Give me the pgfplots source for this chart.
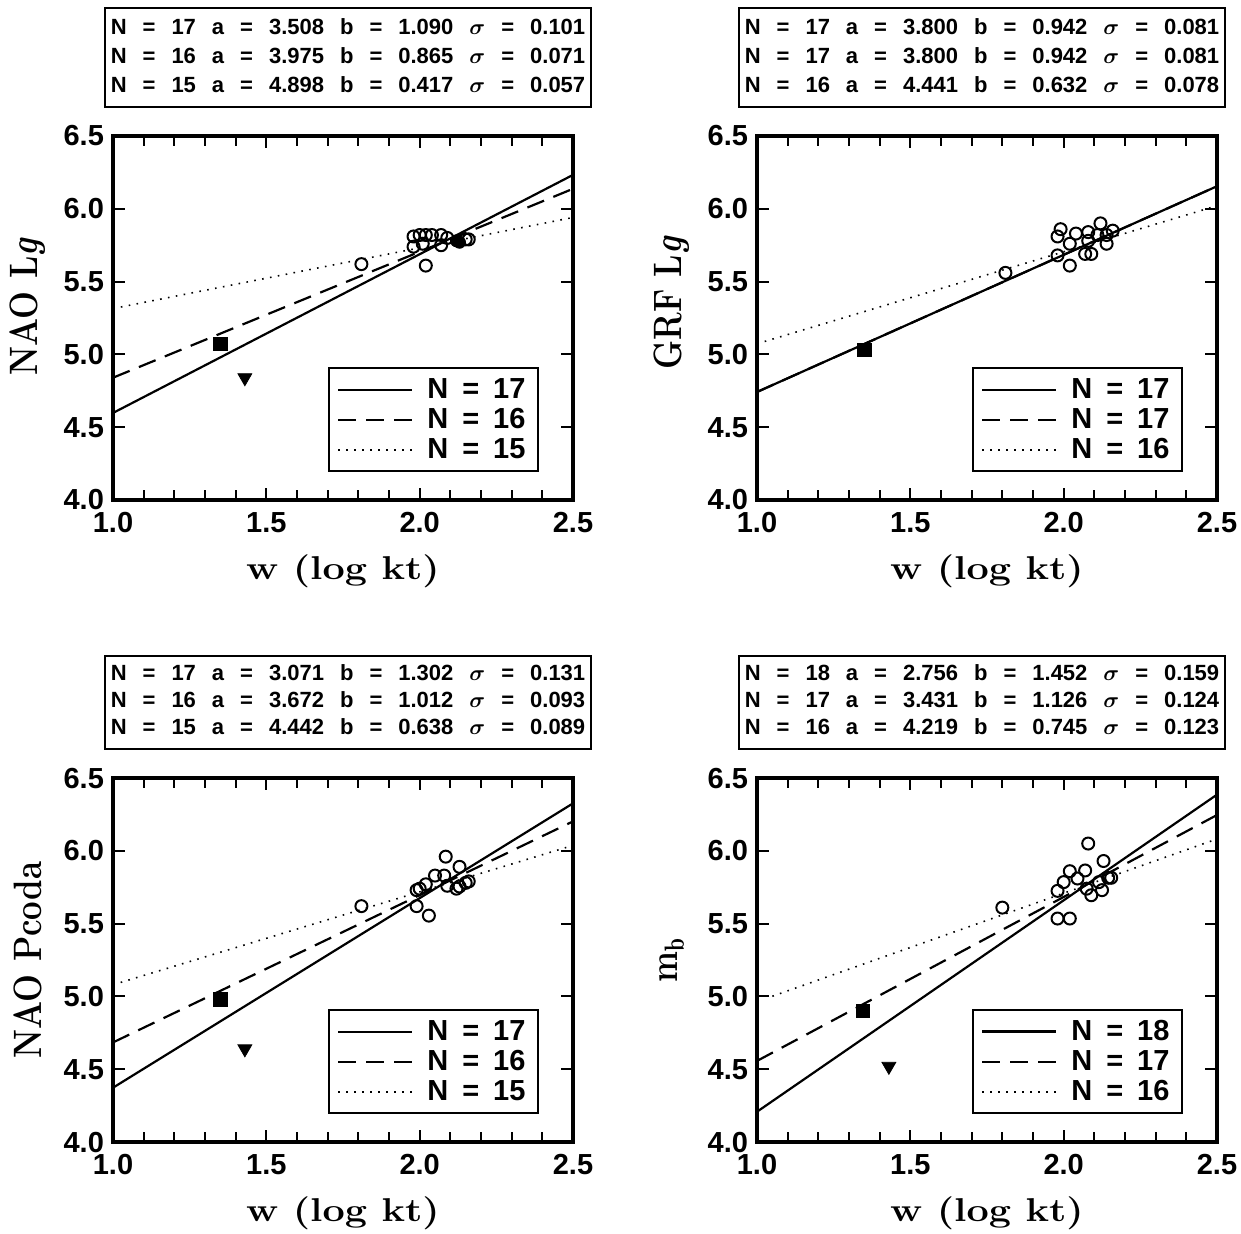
\documentclass[border=0pt]{standalone}
\usepackage{amsmath}
\usepackage{fontspec}
\usepackage{pgfplots}
\pgfplotsset{compat=1.18}
\newfontfamily\hv{Liberation Sans}
\newcommand{\fitrow}[4]{N & = & #1 & a & = & #2 & b & = & #3 & $\boldsymbol{\sigma}$ & = & #4}
\newcommand{\legN}[1]{N\hspace{7pt}=\hspace{7pt}#1}
\newcommand{\xlab}{\scalebox{1.2}[1]{w\hspace{6pt}(log\hspace{6pt}kt)}}
\newcommand{\ylab}[1]{\scalebox{1}[1.2]{#1}}
\pgfplotsset{
  panel/.style={
    anchor=south west, width=230pt, height=182pt, scale only axis,
    xmin=1, xmax=2.5, ymin=4, ymax=6.5,
    xtick={1,1.5,2,2.5}, ytick={4,4.5,5,5.5,6,6.5},
    minor x tick num=4,
    xtick pos=both, ytick pos=both,
    xticklabel pos=lower, yticklabel pos=left,
    tick align=inside,
    major tick length=6pt, minor tick length=5pt,
    every tick/.style={black, line width=1pt},
    axis line style={line width=1.6pt},
    /pgf/number format/assume math mode=true,
    /pgf/number format/.cd, fixed, fixed zerofill, precision=1, /pgfplots/.cd,
    ticklabel style={font=\hv\bfseries\fontsize{14.5}{16}\selectfont},
    xticklabel style={yshift=-2.5pt},
    yticklabel style={xshift=-1pt},
    every axis x label/.style={at={(rel axis cs:0.5,-0.195)}, anchor=center, font=\bfseries\fontsize{16.5}{19}\selectfont},
    every axis y label/.style={at={(rel axis cs:-0.185,0.5)}, anchor=center, rotate=90, font=\bfseries\fontsize{16.5}{19}\selectfont},
    xlabel={\xlab},
    legend cell align=left,
    legend style={at={(0.925,0.076)}, anchor=south east, draw=black, line width=1pt,
      font=\hv\bfseries\fontsize{14.5}{16}\selectfont, row sep=-0.5pt, column sep=5pt,
      inner xsep=4pt, inner ysep=3pt},
    legend image code/.code={\draw[#1] (0pt,0pt) -- (37pt,0pt);},
  },
  solidl/.style={black, line width=1.1pt},
  dashedl/.style={black, line width=1.1pt, dash pattern=on 9pt off 5pt},
  dottedl/.style={black, line width=0.8pt, dash pattern=on 0.8pt off 3.2pt},
  opc/.style={only marks, mark=o, mark size=3pt, mark options={black, line width=1pt}, forget plot},
  fic/.style={only marks, mark=*, mark size=3pt, mark options={black}, forget plot},
  sq/.style={only marks, mark=square*, mark size=3.3pt, mark options={black}, forget plot},
  tri/.style={only marks, mark=triangle*, mark size=4pt, mark options={black, rotate=180}, forget plot},
}
\begin{document}
\begin{tikzpicture}
\useasboundingbox (0,0) rectangle (620.5pt,-616.5pt);

% ---------- fit boxes ----------
\def\boxfont{\hv\bfseries\fontsize{11}{14.5}\selectfont\setlength{\tabcolsep}{4pt}}
\node[draw, line width=1pt, inner xsep=3pt, inner ysep=3pt] at (174pt,-28.75pt)
 {\boxfont\begin{tabular}{@{}llllllllllll@{}}
 \fitrow{17}{3.508}{1.090}{0.101}\\
 \fitrow{16}{3.975}{0.865}{0.071}\\
 \fitrow{15}{4.898}{0.417}{0.057}
 \end{tabular}};
\node[draw, line width=1pt, inner xsep=3pt, inner ysep=3pt] at (491pt,-28.75pt)
 {\boxfont\begin{tabular}{@{}llllllllllll@{}}
 \fitrow{17}{3.800}{0.942}{0.081}\\
 \fitrow{17}{3.800}{0.942}{0.081}\\
 \fitrow{16}{4.441}{0.632}{0.078}
 \end{tabular}};
\def\boxfontb{\hv\bfseries\fontsize{11}{13.5}\selectfont\setlength{\tabcolsep}{4pt}}
\node[draw, line width=1pt, inner xsep=3pt, inner ysep=3pt] at (174pt,-351pt)
 {\boxfontb\begin{tabular}{@{}llllllllllll@{}}
 \fitrow{17}{3.071}{1.302}{0.131}\\
 \fitrow{16}{3.672}{1.012}{0.093}\\
 \fitrow{15}{4.442}{0.638}{0.089}
 \end{tabular}};
\node[draw, line width=1pt, inner xsep=3pt, inner ysep=3pt] at (491pt,-351pt)
 {\boxfontb\begin{tabular}{@{}llllllllllll@{}}
 \fitrow{18}{2.756}{1.452}{0.159}\\
 \fitrow{17}{3.431}{1.126}{0.124}\\
 \fitrow{16}{4.219}{0.745}{0.123}
 \end{tabular}};

% ---------- top left ----------
\begin{axis}[panel, at={(56.5pt,-250pt)}, ylabel={\ylab{NAO L{\itshape g}}},
  every axis y label/.append style={at={(rel axis cs:-0.185,0.53)}}]
\addplot[solidl] coordinates {(1.0,4.598) (2.5,6.233)};
\addlegendentry{\legN{17}}
\addplot[dashedl] coordinates {(1.0,4.840) (2.5,6.1375)};
\addlegendentry{\legN{16}}
\addplot[dottedl] coordinates {(1.0,5.315) (2.5,5.9405)};
\addlegendentry{\legN{15}}
\addplot[opc] coordinates {(1.81,5.62) (2.02,5.61) (1.98,5.81) (2.00,5.82) (2.02,5.82) (2.04,5.82) (2.07,5.82) (2.07,5.75) (1.98,5.74) (2.01,5.76) (2.09,5.80) (2.15,5.79) (2.16,5.79)};
\addplot[fic] coordinates {(2.12,5.78) (2.13,5.77)};
\addplot[sq] coordinates {(1.35,5.07)};
\addplot[tri] coordinates {(1.43,4.84)};
\end{axis}

% ---------- top right ----------
\begin{axis}[panel, at={(378.5pt,-250pt)}, ylabel={\ylab{GRF L{\itshape g}}},
  every axis y label/.append style={at={(rel axis cs:-0.185,0.54)}}]
\addplot[solidl] coordinates {(1.0,4.742) (2.5,6.155)};
\addlegendentry{\legN{17}}
\addplot[dashedl] coordinates {(1.0,4.742) (2.5,6.155)};
\addlegendentry{\legN{17}}
\addplot[dottedl] coordinates {(1.0,5.073) (2.5,6.021)};
\addlegendentry{\legN{16}}
\addplot[opc] coordinates {(1.81,5.56) (1.99,5.86) (1.98,5.81) (1.98,5.68) (2.02,5.76) (2.02,5.61) (2.04,5.83) (2.08,5.84) (2.08,5.78) (2.07,5.69) (2.09,5.69) (2.12,5.90) (2.11,5.82) (2.14,5.82) (2.14,5.76) (2.16,5.85)};
\addplot[sq] coordinates {(1.35,5.03)};
\end{axis}

% ---------- bottom left ----------
\begin{axis}[panel, at={(56.5pt,-571pt)}, ylabel={\ylab{NAO Pcoda}}]
\addplot[solidl] coordinates {(1.0,4.373) (2.5,6.326)};
\addlegendentry{\legN{17}}
\addplot[dashedl] coordinates {(1.0,4.684) (2.5,6.202)};
\addlegendentry{\legN{16}}
\addplot[dottedl] coordinates {(1.0,5.080) (2.5,6.037)};
\addlegendentry{\legN{15}}
\addplot[opc] coordinates {(1.81,5.62) (2.085,5.96) (2.13,5.89) (2.05,5.83) (2.08,5.83) (2.02,5.77) (2.00,5.74) (1.99,5.73) (2.09,5.76) (2.12,5.74) (2.13,5.755) (2.15,5.78) (2.16,5.79) (1.99,5.62) (2.03,5.555)};
\addplot[sq] coordinates {(1.35,4.98)};
\addplot[tri] coordinates {(1.43,4.64)};
\end{axis}

% ---------- bottom right ----------
\begin{axis}[panel, at={(378.5pt,-571pt)}, ylabel={\ylab{m$_{\mathbf{b}}$}}]
\addplot[solidl] coordinates {(1.0,4.208) (2.5,6.386)};
\addlegendentry{\legN{18}}
\addplot[dashedl] coordinates {(1.0,4.557) (2.5,6.246)};
\addlegendentry{\legN{17}}
\addplot[dottedl] coordinates {(1.05,5.001) (2.5,6.0815)};
\addlegendentry{\legN{16}}
\addplot[opc] coordinates {(1.80,5.61) (2.08,6.05) (2.13,5.93) (2.02,5.86) (2.07,5.865) (2.045,5.81) (2.00,5.785) (1.98,5.725) (2.075,5.74) (2.09,5.695) (2.115,5.785) (2.125,5.73) (2.145,5.815) (2.155,5.815) (1.98,5.535) (2.02,5.535)};
\addplot[sq] coordinates {(1.345,4.90)};
\addplot[tri] coordinates {(1.43,4.52)};
\end{axis}
\end{tikzpicture}
\end{document}
